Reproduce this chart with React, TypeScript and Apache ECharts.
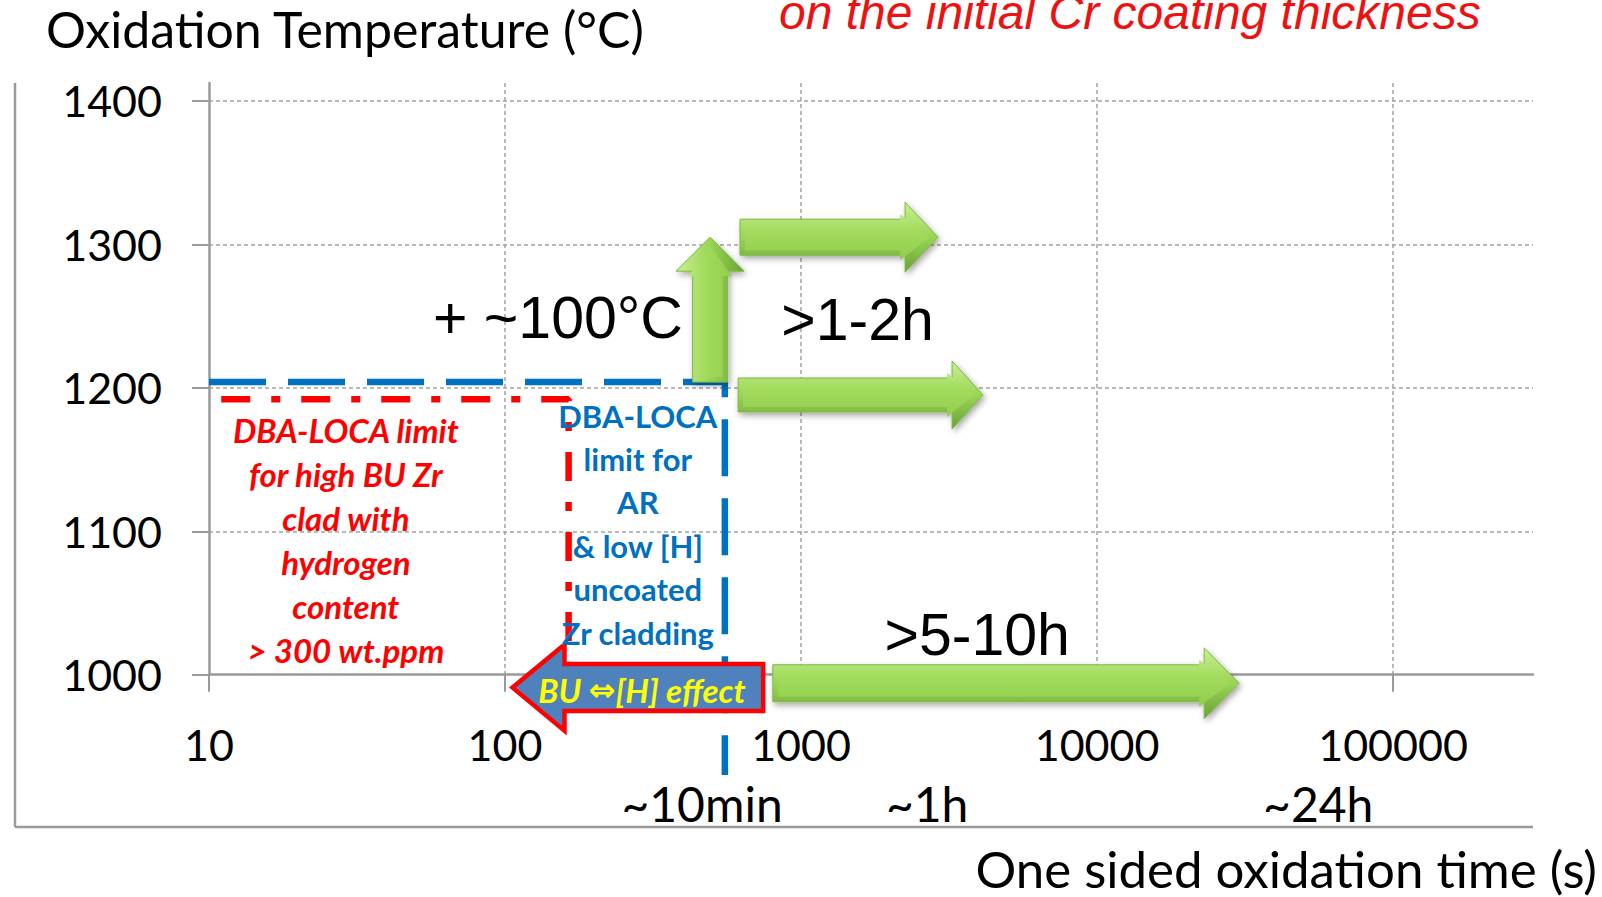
import React, { useEffect, useRef } from "react";
import * as echarts from "echarts";

// ---------- data ----------
const xTickValues = [10, 100, 1000, 10000, 100000]; // s
const yTickValues = [1000, 1100, 1200, 1300, 1400]; // °C
const xRange = [10, 297000];
const yRange = [1000, 1412.5];

// blue: DBA-LOCA limit for AR & low [H] uncoated Zr
const blueLimitTime = [10, 553, 553];
const blueLimitTemp = [1204, 1204, 930];
// red: DBA-LOCA limit for high BU Zr
const redLimitTime = [11, 164, 164];
const redLimitTemp = [1192, 1192, 1000];

// green arrows (from -> to)
const greenFromTime = [493, 622, 613, 803];
const greenFromTemp = [1204, 1305, 1195, 994];
const greenToTime = [493, 2904, 4121, 30200];
const greenToTemp = [1305, 1305, 1195, 994];

// BU <-> [H] effect arrow
const buFromTime = 745;
const buToTime = 106;
const buTemp = 991;

// annotation texts
const labelTexts = [
  "+ ~100°C",
  ">1-2h",
  ">5-10h",
  "~10min",
  "~1h",
  "~24h",
  "DBA-LOCA limit\nfor high BU Zr\nclad with\nhydrogen\ncontent\n> 300 wt.ppm",
  "DBA-LOCA\nlimit for\nAR\n& low [H]\nuncoated\nZr cladding",
  "{a|BU }{b|⇔}{a|[H] effect}",
];
const labelTime = [151, 1553, 3936, 463, 2667, 55860, 29, 281, 290];
const labelTemp = [1249, 1247, 1028, 910, 910, 910, 1094, 1105, 989];
const labelKind = ["big", "big", "big", "axis", "axis", "axis", "red", "blue", "yellow"];

const yTitle = "Oxidation Temperature (°C)";
const xTitle = "One sided oxidation time (s)";
const topNote = "on the initial Cr coating thickness";

// ---------- styles ----------
const FONT = "Lato, 'Open Sans', sans-serif";
const kindStyle: Record<string, any> = {
  big: { fontFamily: "'Liberation Sans', Arial, sans-serif", fontSize: 59, fill: "#000" },
  axis: { fontFamily: FONT, fontSize: 48, fill: "#000" },
  red: { fontFamily: FONT, fontSize: 33, fill: "#FF0000", fontWeight: "bold", fontStyle: "italic", lineHeight: 44 },
  blue: { fontFamily: FONT, fontSize: 31, fill: "#0070C0", fontWeight: "bold", lineHeight: 43.4 },
  yellow: {
    fill: "#FFFF00",
    rich: {
      a: { fontFamily: FONT, fontSize: 33, color: "#FFFF00", fontWeight: "bold", fontStyle: "italic" },
      b: { fontFamily: "'DejaVu Sans', sans-serif", fontSize: 32, color: "#FFFF00", fontWeight: "bold" },
    },
  },
};
const greenShape = [
  { shaft: 17.5, head: 34, headLen: 34 },
  { shaft: 18, head: 35, headLen: 33 },
  { shaft: 17, head: 34, headLen: 31 },
  { shaft: 18.5, head: 35.5, headLen: 35 },
];
const buShape = { shaft: 23.5, head: 43, headLen: 52 };

const lg = (v: number) => Math.log10(v);

function arrowPoints(p0: number[], p1: number[], sh: number, hh: number, hl: number) {
  const dx = p1[0] - p0[0];
  const dy = p1[1] - p0[1];
  const len = Math.sqrt(dx * dx + dy * dy) || 1;
  const ux = dx / len, uy = dy / len;
  const nx = -uy, ny = ux;
  const bx = p1[0] - ux * hl, by = p1[1] - uy * hl;
  return [
    [p0[0] + nx * sh, p0[1] + ny * sh],
    [bx + nx * sh, by + ny * sh],
    [bx + nx * hh, by + ny * hh],
    [p1[0], p1[1]],
    [bx - nx * hh, by - ny * hh],
    [bx - nx * sh, by - ny * sh],
    [p0[0] - nx * sh, p0[1] - ny * sh],
  ];
}

function shift(p: number[], p0: number[], p1: number[], d: number) {
  const dx = p1[0] - p0[0];
  const dy = p1[1] - p0[1];
  const len = Math.sqrt(dx * dx + dy * dy) || 1;
  return [p[0] + (dx / len) * d, p[1] + (dy / len) * d];
}

export default function App() {
  const ref = useRef<HTMLDivElement>(null);
  useEffect(() => {
    if (!ref.current) return;
    const chart = echarts.init(ref.current, null, { renderer: "svg" });

    const gridLine = { color: "#a3a3a3", width: 1.5, type: [4, 3] };
    const axisLineStyle = { color: "#9a9a9a", width: 2.5 };

    const greenData = greenFromTime.map((t, i) => [lg(t), greenFromTemp[i], lg(greenToTime[i]), greenToTemp[i]]);
    const textData = labelTime.map((t, i) => [lg(t), labelTemp[i]]);

    chart.setOption({
      animation: false,
      backgroundColor: "#ffffff",
      grid: { left: 209, right: 69, top: 83, bottom: 222.3, containLabel: false },
      xAxis: {
        type: "value",
        min: lg(xRange[0]),
        max: lg(xRange[1]),
        interval: 1,
        axisLine: { show: true, lineStyle: axisLineStyle },
        axisTick: { show: true, length: 17, lineStyle: { color: "#9a9a9a", width: 2 }, customValues: xTickValues.map(lg) },
        axisLabel: {
          customValues: xTickValues.map(lg),
          margin: 48,
          fontSize: 43,
          fontFamily: FONT,
          color: "#000",
          formatter: (v: number) =>
            Math.abs(v - Math.round(v)) < 1e-6 ? String(Math.round(Math.pow(10, v))) : "",
        },
        splitLine: { show: true, lineStyle: gridLine, showMinLine: false },
      },
      yAxis: {
        type: "value",
        min: yRange[0],
        max: yRange[1],
        interval: 100,
        axisLine: { show: true, lineStyle: axisLineStyle },
        axisTick: { show: true, length: 17, lineStyle: { color: "#9a9a9a", width: 2 }, customValues: yTickValues },
        axisLabel: {
          customValues: yTickValues,
          margin: 47,
          fontSize: 43,
          fontFamily: FONT,
          color: "#000",
          formatter: (v: number) => (Math.abs(v % 100) < 1e-6 ? String(v) : ""),
        },
        splitLine: { show: true, lineStyle: gridLine, showMinLine: false },
      },
      graphic: [
        { type: "line", shape: { x1: 15, y1: 83, x2: 15, y2: 827 }, style: { stroke: "#9a9a9a", lineWidth: 2.5 }, silent: true },
        { type: "line", shape: { x1: 15, y1: 827, x2: 1533, y2: 827 }, style: { stroke: "#9a9a9a", lineWidth: 2.5 }, silent: true },
        {
          type: "text", x: 46, y: 29,
          style: { text: yTitle, fontFamily: FONT, fontSize: 50, fill: "#000", align: "left", verticalAlign: "middle" },
        },
        {
          type: "text", x: 1597, y: 868,
          style: { text: xTitle, fontFamily: FONT, fontSize: 51, fill: "#000", align: "right", verticalAlign: "middle" },
        },
        {
          type: "text", x: 779, y: 12,
          style: {
            text: topNote, fontFamily: "'Liberation Sans', Arial, sans-serif", fontSize: 48, fontStyle: "italic",
            fill: "#EE1111", align: "left", verticalAlign: "middle",
          },
        },
      ],
      series: [
        {
          type: "line", name: "blue limit", silent: true, clip: false, symbol: "none", z: 2,
          data: blueLimitTime.map((t, i) => [lg(t), blueLimitTemp[i]]),
          lineStyle: { color: "#0070C0", width: 6.5, type: [57, 22], cap: "butt" },
        },
        {
          type: "line", name: "red limit", silent: true, clip: false, symbol: "none", z: 2,
          data: redLimitTime.map((t, i) => [lg(t), redLimitTemp[i]]),
          lineStyle: { color: "#FF0000", width: 6.5, type: [29, 21, 9, 21], cap: "butt" },
        },
        {
          type: "custom", name: "green arrows", silent: true, z: 3, clip: false,
          encode: { x: [0, 2], y: [1, 3] },
          data: greenData,
          renderItem: (params: any, api: any) => {
            const i = params.dataIndex;
            const p0 = api.coord([api.value(0), api.value(1)]);
            const p1 = api.coord([api.value(2), api.value(3)]);
            const s = greenShape[i];
            const vertical = Math.abs(p0[0] - p1[0]) < 1;
            const outerStops = [
              { offset: 0, color: "#c8f092" },
              { offset: 0.5, color: "#9ad555" },
              { offset: 1, color: "#6aa236" },
            ];
            const innerStops = [
              { offset: 0, color: "#b9e97c" },
              { offset: 0.35, color: "#a3dc5e" },
              { offset: 1, color: "#92cd4c" },
            ];
            const mk = (stops: any) =>
              vertical
                ? new echarts.graphic.LinearGradient(0, 0, 1, 0, stops)
                : new echarts.graphic.LinearGradient(0, 0, 0, 1, stops);
            const ip0 = shift(p0, p0, p1, 5);
            const ip1 = shift(p1, p0, p1, -9);
            return {
              type: "group",
              children: [
                {
                  type: "polygon",
                  shape: { points: arrowPoints(p0, p1, s.shaft, s.head, s.headLen) },
                  style: {
                    fill: mk(outerStops), stroke: "#7fb83f", lineWidth: 1,
                    shadowBlur: 6, shadowColor: "rgba(0,0,0,0.35)", shadowOffsetX: 2, shadowOffsetY: 3,
                  },
                },
                {
                  type: "polygon",
                  shape: { points: arrowPoints(ip0, ip1, s.shaft - 5, s.head - 12, s.headLen - 4) },
                  style: { fill: mk(innerStops) },
                },
              ],
            };
          },
        },
        {
          type: "custom", name: "BU arrow", silent: true, z: 4, clip: false,
          encode: { x: [0, 2], y: [1, 3] },
          data: [[lg(buFromTime), buTemp, lg(buToTime), buTemp]],
          renderItem: (params: any, api: any) => {
            const p0 = api.coord([api.value(0), api.value(1)]);
            const p1 = api.coord([api.value(2), api.value(3)]);
            return {
              type: "polygon",
              shape: { points: arrowPoints(p0, p1, buShape.shaft, buShape.head, buShape.headLen) },
              style: { fill: "#4F81BD", stroke: "#FF0000", lineWidth: 4.5, lineJoin: "miter" },
            };
          },
        },
        {
          type: "custom", name: "labels", silent: true, z: 6, clip: false,
          encode: { x: 0, y: 1 },
          data: textData,
          renderItem: (params: any, api: any) => {
            const i = params.dataIndex;
            const p = api.coord([api.value(0), api.value(1)]);
            const st = kindStyle[labelKind[i]];
            return {
              type: "text",
              x: p[0],
              y: p[1],
              style: { text: labelTexts[i], align: "center", verticalAlign: "middle", ...st },
            };
          },
        },
      ],
    });
    return () => chart.dispose();
  }, []);

  return (
    <div
      ref={ref}
      style={{ position: "absolute", left: 0, top: 0, width: 1602, height: 897, background: "#fff" }}
    />
  );
}
